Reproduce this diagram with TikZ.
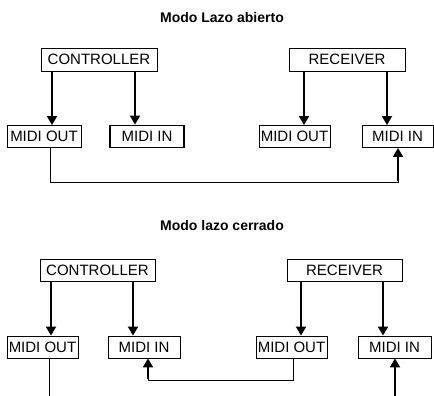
\documentclass[tikz,border=0pt]{standalone}
\usepackage{fontspec}
\setmainfont{Liberation Sans}
\usetikzlibrary{arrows.meta}

\begin{document}
\begin{tikzpicture}[x=1pt,y=1pt,
  unit/.style={draw, line width=0.9pt, inner sep=1pt, minimum height=23pt, font=\fontsize{15}{15}\selectfont},
  port/.style={unit, minimum height=22pt},
  title/.style={font=\fontsize{14}{14}\selectfont\bfseries},
  feed/.style={line width=1.8pt, -{Triangle[length=9pt,width=10pt]}},
  wire/.style={line width=0.9pt}]
\useasboundingbox (0,0) rectangle (434,-396);
% Modo lazo abierto
\node[title] (titA) at (222,-17) {Modo Lazo abierto};
\node[unit, minimum width=116pt] (ctrlA) at (99,-59.5) {CONTROLLER};
\node[unit, minimum width=116pt] (recvA) at (347,-59.5) {RECEIVER};
\node[port, minimum width=74pt] (outA1) at (44,-136.5) {MIDI OUT};
\node[port, minimum width=74pt, line width=1.8pt] (inA1) at (147,-136.5) {MIDI IN};
\node[port, minimum width=71pt] (outA2) at (294.5,-136.5) {MIDI OUT};
\node[port, minimum width=71pt] (inA2) at (397.5,-136.5) {MIDI IN};
\draw[feed] (ctrlA.south -| 52,0) -- (outA1.north -| 52,0);
\draw[feed] (ctrlA.south -| 135,0) -- (inA1.north -| 135,0);
\draw[feed] (recvA.south -| 304,0) -- (outA2.north -| 304,0);
\draw[feed] (recvA.south -| 387,0) -- (inA2.north -| 387,0);
\draw[wire] (outA1.south -| 50,0) |- (398,-182) -- (398,-170);
\draw[feed] (398,-181) -- (inA2.south -| 398,0);
% Modo lazo cerrado
\node[title] (titB) at (222,-225) {Modo lazo cerrado};
\node[unit, minimum width=115pt, minimum height=22pt] (ctrlB) at (97.5,-270) {CONTROLLER};
\node[unit, minimum width=115pt, minimum height=22pt] (recvB) at (344.5,-270) {RECEIVER};
\node[port, minimum width=71pt] (outB1) at (42.5,-347) {MIDI OUT};
\node[port, minimum width=72pt] (inB1) at (144,-347) {MIDI IN};
\node[port, minimum width=71pt] (outB2) at (291.5,-347) {MIDI OUT};
\node[port, minimum width=73pt] (inB2) at (394.5,-347) {MIDI IN};
\coordinate (endB1) at (49,-396);
\coordinate (startB2) at (395,-396);
\draw[feed] (ctrlB.south -| 51,0) -- (outB1.north -| 51,0);
\draw[feed] (ctrlB.south -| 133,0) -- (inB1.north -| 133,0);
\draw[feed] (recvB.south -| 301,0) -- (outB2.north -| 301,0);
\draw[feed] (recvB.south -| 383,0) -- (inB2.north -| 383,0);
\draw[wire] (outB2.south -| 293,0) |- (148,-380) -- (148,-370);
\draw[feed] (148,-379) -- (inB1.south -| 148,0);
\draw[wire] (outB1.south -| 49,0) -- (endB1);
\draw[feed] (startB2) -- (inB2.south -| 395,0);
\end{tikzpicture}
\end{document}
